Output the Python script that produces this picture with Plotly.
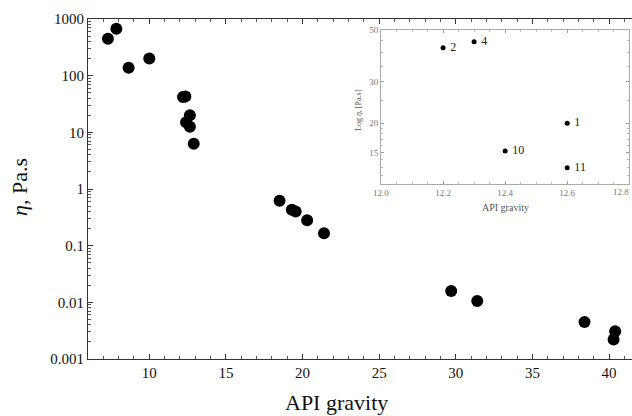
import plotly.graph_objects as go
import math

# Main data: API gravity vs viscosity (Pa.s)
api = [7.3, 7.85, 8.65, 10.0, 12.2, 12.35, 12.65, 12.4, 12.65, 12.9,
       18.5, 19.3, 19.55, 20.3, 21.4, 29.7, 31.4, 38.4, 40.4, 40.3]
visc = [450, 670, 138, 200, 42, 43, 20, 15, 12.5, 6.3,
        0.62, 0.43, 0.40, 0.28, 0.165, 0.0158, 0.0106, 0.0045, 0.0031, 0.0022]

# Inset data
inset_api = [12.2, 12.3, 12.6, 12.4, 12.6]
inset_visc = [42, 44.5, 20, 15.2, 12.9]
inset_labels = ["2", "4", "1", "10", "11"]

y_ticks = [1000, 100, 10, 1, 0.1, 0.01, 0.001]
y_ticktext = ["1000", "100", "10", "1", "0.1", "0.01", "0.001"]
inset_yticks = [15, 20, 30, 50]
inset_xticks = [12.0, 12.2, 12.4, 12.6, 12.8]
inset_xticktext = ["12.0", "12.2", "12.4", "12.6", "12.8"]

SERIF = "Liberation Serif, Times New Roman, serif"

fig = go.Figure()
fig.add_trace(go.Scatter(x=api, y=visc, mode="markers",
                         marker=dict(size=12, color="black"),
                         xaxis="x", yaxis="y", showlegend=False))
fig.add_trace(go.Scatter(x=inset_api, y=inset_visc, mode="markers+text",
                         text=[" " + t for t in inset_labels],
                         textposition="middle right",
                         textfont=dict(family=SERIF, size=12, color="#222"),
                         marker=dict(size=5, color="black"),
                         xaxis="x2", yaxis="y2", showlegend=False))

minor_log = [k * 10 ** e for e in range(-3, 3) for k in range(2, 10)]

fig.update_layout(
    width=632, height=416,
    margin=dict(l=88, r=0, t=19, b=57),
    paper_bgcolor="white", plot_bgcolor="white",
    font=dict(family=SERIF, color="#111"),
    xaxis=dict(range=[6, 41.5], tick0=0, dtick=5, ticks="inside", ticklen=5,
               tickwidth=1, tickcolor="#333", showline=True, linecolor="#333",
               linewidth=1, mirror="ticks", showgrid=False, zeroline=False,
               tickfont=dict(size=15, color="#111"),
               minor=dict(dtick=1, ticks="inside", ticklen=3, tickcolor="#555",
                          showgrid=False)),
    yaxis=dict(type="log", range=[-3, 3], tickmode="array", tickvals=y_ticks,
               ticktext=y_ticktext, ticks="inside", ticklen=5, tickwidth=1,
               tickcolor="#333", showline=True, linecolor="#333", linewidth=1,
               showgrid=False, zeroline=False,
               tickfont=dict(size=15, color="#111"),
               minor=dict(tickmode="array", tickvals=minor_log, ticks="inside",
                          ticklen=3, tickcolor="#555", showgrid=False)),
    xaxis2=dict(domain=[0.5386, 0.995], anchor="y2", range=[12.0, 12.8],
                tickmode="array", tickvals=inset_xticks[:-1],
                ticktext=inset_xticktext[:-1],
                ticks="inside", ticklen=3, tickcolor="#999",
                showline=True, linecolor="#aaa", linewidth=1, mirror="allticks",
                showgrid=False, zeroline=False,
                tickfont=dict(size=9, color="#777"),
                minor=dict(dtick=0.05, tick0=12.0, ticks="inside", ticklen=2,
                           tickcolor="#bbb", showgrid=False)),
    yaxis2=dict(domain=[0.5147, 0.9676], anchor="x2", type="log",
                range=[math.log10(11), math.log10(50)],
                tickmode="array", tickvals=inset_yticks,
                ticks="inside", ticklen=3, tickcolor="#999",
                showline=True, linecolor="#aaa", linewidth=1, mirror="allticks",
                showgrid=False, zeroline=False,
                tickfont=dict(size=9, color="#777"),
                minor=dict(tickmode="array",
                           tickvals=[12, 13, 14, 16, 17, 18, 19, 25, 35, 40, 45],
                           ticks="inside", ticklen=2, tickcolor="#bbb",
                           showgrid=False)),
)

# Last inset x tick label, kept inside the page
fig.add_annotation(text=inset_xticktext[-1], xref="paper", yref="paper",
                   x=(631 - 88) / 544, y=(359 - 192) / 340,
                   xanchor="right", yanchor="middle", showarrow=False,
                   font=dict(family=SERIF, size=9, color="#777"))

# Axis titles as annotations for precise placement
fig.add_annotation(text="API gravity", xref="paper", yref="paper",
                   x=0.4577, y=-0.1294, xanchor="center", yanchor="middle",
                   showarrow=False, font=dict(family=SERIF, size=22, color="#111"))
fig.add_annotation(text="<i>η</i>, Pa.s", xref="paper", yref="paper",
                   x=-0.125, y=0.506, xanchor="center", yanchor="middle",
                   textangle=-90, showarrow=False,
                   font=dict(family=SERIF, size=22, color="#111"))
fig.add_annotation(text="API gravity", xref="paper", yref="paper",
                   x=(505 - 88) / 544, y=(359 - 207) / 340,
                   xanchor="center", yanchor="middle", showarrow=False,
                   font=dict(family=SERIF, size=10, color="#555"))
fig.add_annotation(text="Log <i>η</i>, [Pa.s]", xref="paper", yref="paper",
                   x=(358 - 88) / 544, y=(359 - 110) / 340,
                   xanchor="center", yanchor="middle", textangle=-90,
                   showarrow=False, font=dict(family=SERIF, size=8, color="#555"))

fig.write_html("out.html")
